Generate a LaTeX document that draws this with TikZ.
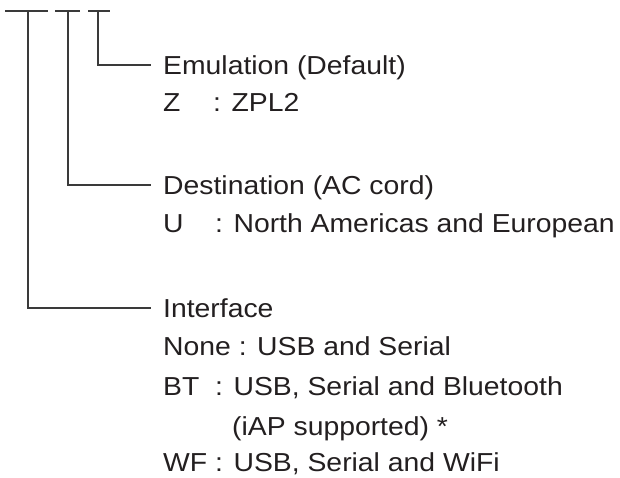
\documentclass[tikz,border=0pt]{standalone}
\usepackage{fontspec}
\setmainfont{Liberation Sans}[FakeStretch=1.09]
\definecolor{leadgray}{HTML}{3A3A3A}
\definecolor{textblack}{HTML}{231F20}
\tikzset{
  lead/.style={leadgray,line width=1.3pt},
  entry/.style={anchor=base west,inner sep=0pt,text=textblack,
    font=\fontsize{26}{30}\selectfont}
}

\begin{document}
\begin{tikzpicture}[x=1pt,y=-1pt]
  \useasboundingbox (0,0) rectangle (620,478);
  % underlines below the code
  \foreach \name/\xa/\xb in {ifc/5/48,dst/55/80,emu/88/110}
    {
    \coordinate (\name-l) at (\xa,11);
    \coordinate (\name-r) at (\xb,11);
    \draw[lead] (\name-l) -- (\name-r);
    }
  \coordinate (ifc-top) at (28,11);
  \coordinate (dst-top) at (68,11);
  \coordinate (emu-top) at (98,11);
  % headings and items
  \node[entry] (emu) at (163,75) {Emulation (Default)};
  \node[entry] (emuZ) at (163,112) {Z};
  \node[entry] (emuZv) at (213,112) {: ZPL2};
  \node[entry] (dst) at (163,195) {Destination (AC cord)};
  \node[entry] (dstU) at (163,232) {U};
  \node[entry] (dstUv) at (215,232) {: North Americas and European};
  \node[entry] (ifc) at (163,317) {Interface};
  \node[entry] (ifcNone) at (163,355) {None : USB and Serial};
  \node[entry] (ifcBT) at (163,395) {BT};
  \node[entry] (ifcBTv) at (215,395) {: USB, Serial and Bluetooth};
  \node[entry] (ifcBTw) at (232,435) {(iAP supported) *};
  \node[entry] (ifcWF) at (163,471) {WF};
  \node[entry] (ifcWFv) at (215,471) {: USB, Serial and WiFi};
  % leads
  \coordinate (emu-end) at (151,65);
  \coordinate (dst-end) at (151,185);
  \coordinate (ifc-end) at (151,308);
  \foreach \name in {emu,dst,ifc}
    \draw[lead] (\name-top) |- (\name-end);
\end{tikzpicture}
\end{document}
